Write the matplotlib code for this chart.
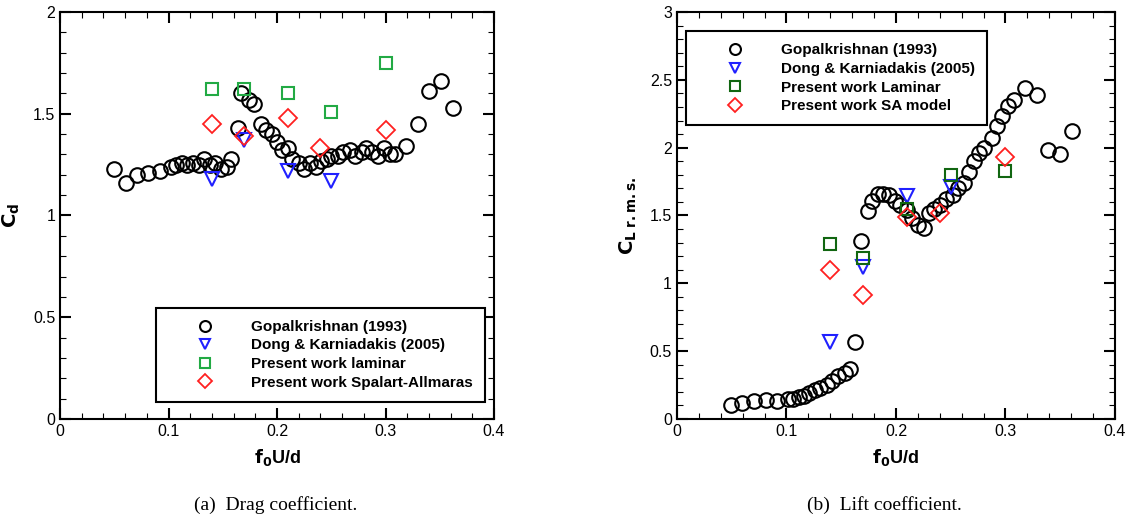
import matplotlib
matplotlib.use("Agg")
import matplotlib.pyplot as plt
from matplotlib.ticker import MultipleLocator, FuncFormatter

plt.rcParams['font.family'] = ['Liberation Sans', 'DejaVu Sans']

# ---- data: drag coefficient ----
gop_cd_x = [0.050, 0.061, 0.071, 0.081, 0.092, 0.102, 0.107, 0.112, 0.117, 0.123, 0.128, 0.133,
            0.138, 0.143, 0.148, 0.154, 0.158, 0.164, 0.167, 0.174, 0.179, 0.185, 0.190, 0.195,
            0.200, 0.205, 0.210, 0.214, 0.220, 0.225, 0.230, 0.236, 0.241, 0.246, 0.250, 0.256,
            0.261, 0.267, 0.272, 0.278, 0.282, 0.288, 0.293, 0.299, 0.304, 0.309, 0.319, 0.330,
            0.340, 0.351, 0.362]
gop_cd_y = [1.23, 1.16, 1.20, 1.21, 1.22, 1.24, 1.25, 1.26, 1.25, 1.26, 1.25, 1.28,
            1.25, 1.26, 1.23, 1.24, 1.28, 1.43, 1.60, 1.57, 1.55, 1.45, 1.42, 1.40,
            1.36, 1.32, 1.33, 1.28, 1.26, 1.23, 1.26, 1.24, 1.27, 1.28, 1.29, 1.29,
            1.31, 1.32, 1.29, 1.31, 1.33, 1.31, 1.29, 1.33, 1.30, 1.30, 1.34, 1.45,
            1.61, 1.66, 1.53]
dong_cd_x = [0.14, 0.17, 0.21, 0.25]
dong_cd_y = [1.18, 1.37, 1.22, 1.17]
lam_cd_x = [0.14, 0.17, 0.21, 0.25, 0.30]
lam_cd_y = [1.62, 1.62, 1.60, 1.51, 1.75]
sa_cd_x = [0.14, 0.17, 0.21, 0.24, 0.30]
sa_cd_y = [1.45, 1.39, 1.48, 1.33, 1.42]

# ---- data: lift coefficient ----
gop_cl_x = [0.049, 0.059, 0.070, 0.081, 0.091, 0.101, 0.106, 0.111, 0.116, 0.121, 0.126, 0.131,
            0.137, 0.142, 0.147, 0.153, 0.158, 0.163, 0.168, 0.174, 0.178, 0.184, 0.188, 0.194,
            0.199, 0.204, 0.210, 0.215, 0.220, 0.226, 0.230, 0.235, 0.240, 0.246, 0.252, 0.257,
            0.262, 0.267, 0.271, 0.276, 0.280, 0.288, 0.292, 0.297, 0.302, 0.308, 0.318, 0.329,
            0.339, 0.350, 0.361]
gop_cl_y = [0.10, 0.12, 0.13, 0.14, 0.13, 0.15, 0.15, 0.16, 0.17, 0.19, 0.21, 0.23,
            0.25, 0.28, 0.32, 0.34, 0.37, 0.57, 1.31, 1.53, 1.61, 1.66, 1.66, 1.65,
            1.61, 1.58, 1.54, 1.48, 1.43, 1.41, 1.52, 1.55, 1.58, 1.62, 1.65, 1.70,
            1.74, 1.82, 1.90, 1.96, 2.00, 2.07, 2.16, 2.23, 2.31, 2.35, 2.44, 2.39,
            1.98, 1.95, 2.12]
dong_cl_x = [0.14, 0.17, 0.21, 0.25]
dong_cl_y = [0.57, 1.12, 1.64, 1.71]
lam_cl_x = [0.14, 0.17, 0.21, 0.25, 0.30]
lam_cl_y = [1.29, 1.19, 1.55, 1.80, 1.83]
sa_cl_x = [0.14, 0.17, 0.21, 0.24, 0.30]
sa_cl_y = [1.10, 0.91, 1.49, 1.52, 1.93]

fig = plt.figure(figsize=(11.33, 5.23), dpi=100)
ax1 = fig.add_axes([0.053, 0.199, 0.383, 0.778])
ax2 = fig.add_axes([0.5975, 0.199, 0.3866, 0.778])

fmt = FuncFormatter(lambda v, p: '%g' % round(v, 6))


def draw(ax, gx, gy, dx, dy, lx, ly, sx, sy, lam_color, labels, ymax, legloc, anchor):
    ax.plot(gx, gy, 'o', mfc='none', mec='black', ms=10.5, mew=1.5, ls='none', label=labels[0])
    ax.plot(dx, dy, 'v', mfc='none', mec='#2020ff', ms=10, mew=1.5, ls='none', label=labels[1])
    ax.plot(lx, ly, 's', mfc='none', mec=lam_color, ms=9, mew=1.5, ls='none', label=labels[2])
    ax.plot(sx, sy, 'D', mfc='none', mec='#ff2020', ms=9, mew=1.3, ls='none', label=labels[3])
    ax.set_xlim(0, 0.4)
    ax.set_ylim(0, ymax)
    ax.xaxis.set_major_locator(MultipleLocator(0.1))
    ax.xaxis.set_minor_locator(MultipleLocator(0.02))
    ax.yaxis.set_major_locator(MultipleLocator(0.5))
    ax.yaxis.set_minor_locator(MultipleLocator(0.1))
    ax.xaxis.set_major_formatter(fmt)
    ax.yaxis.set_major_formatter(fmt)
    ax.tick_params(which='both', direction='in', top=True, right=True, labelsize=11.5)
    ax.tick_params(which='major', length=8, width=1.5)
    ax.tick_params(which='minor', length=4, width=0.8)
    for s in ax.spines.values():
        s.set_linewidth(1.5)
    ax.set_xlabel(r'$\mathbf{f_0}$U/d', fontsize=13, fontweight='bold', labelpad=6)
    leg = ax.legend(loc=legloc, bbox_to_anchor=anchor, borderaxespad=0,
                    fancybox=False, edgecolor='black', framealpha=1,
                    prop={'weight': 'bold', 'size': 11}, handletextpad=0.6,
                    markerscale=0.75, labelspacing=0.3, borderpad=0.8, handlelength=4.8)
    leg.get_frame().set_linewidth(1.5)


draw(ax1, gop_cd_x, gop_cd_y, dong_cd_x, dong_cd_y, lam_cd_x, lam_cd_y, sa_cd_x, sa_cd_y,
     '#22aa44',
     ['Gopalkrishnan (1993)', 'Dong & Karniadakis (2005)', 'Present work laminar',
      'Present work Spalart-Allmaras'], 2, 'lower right', (0.979, 0.042))
draw(ax2, gop_cl_x, gop_cl_y, dong_cl_x, dong_cl_y, lam_cl_x, lam_cl_y, sa_cl_x, sa_cl_y,
     '#116611',
     ['Gopalkrishnan (1993)', 'Dong & Karniadakis (2005)', 'Present work Laminar',
      'Present work SA model'], 3, 'upper left', (0.021, 0.953))

ax1.set_ylabel(r'$\mathbf{C_d}$', fontsize=14, labelpad=8)
ax2.set_ylabel(r'$\mathbf{C_{L\ r.m.s.}}$', fontsize=14, labelpad=8)

fig.text(0.243, 0.035, '(a)  Drag coefficient.', ha='center', va='center',
         family='Liberation Serif', fontsize=14)
fig.text(0.781, 0.035, '(b)  Lift coefficient.', ha='center', va='center',
         family='Liberation Serif', fontsize=14)

fig.savefig('out.png', dpi=100)
